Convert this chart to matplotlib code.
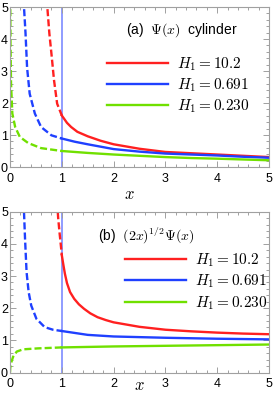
import matplotlib
matplotlib.use("Agg")
import matplotlib.pyplot as plt
from matplotlib.ticker import MultipleLocator

plt.rcParams['font.family'] = ['Liberation Sans', 'DejaVu Sans']
plt.rcParams['mathtext.fontset'] = 'cm'

labels = [r'$H_1 = 10.2$', r'$H_1 = 0.691$', r'$H_1 = 0.230$']
colors = ['#ff2020', '#1f40ff', '#70e000']

# ---- panel (a): Psi(x) ----
a_red_dash_x = [0.712, 0.72, 0.76, 0.80, 0.85, 0.91, 1.0]
a_red_dash_y = [5.3, 5.0, 4.17, 3.54, 2.71, 1.98, 1.61]
a_red_x = [1.0, 1.1, 1.18, 1.3, 1.5, 1.75, 2.0, 2.5, 3.0, 3.5, 4.0, 4.5, 5.0]
a_red_y = [1.61, 1.38, 1.25, 1.10, 0.96, 0.82, 0.71, 0.57, 0.47, 0.43, 0.39, 0.35, 0.31]

a_blue_dash_x = [0.265, 0.27, 0.30, 0.33, 0.38, 0.48, 0.6, 0.8, 1.0]
a_blue_dash_y = [5.3, 5.0, 4.17, 3.1, 2.29, 1.67, 1.25, 0.99, 0.89]
a_blue_x = [1.0, 1.25, 1.5, 2.0, 2.5, 3.0, 3.5, 4.0, 4.5, 5.0]
a_blue_y = [0.89, 0.79, 0.71, 0.56, 0.48, 0.42, 0.39, 0.36, 0.32, 0.29]

a_green_dash_x = [0.004, 0.01, 0.02, 0.045, 0.1, 0.19, 0.35, 0.6, 1.0]
a_green_dash_y = [5.3, 3.8, 2.6, 1.67, 1.25, 0.94, 0.75, 0.59, 0.50]
a_green_x = [1.0, 1.5, 2.0, 2.5, 3.0, 3.5, 4.0, 4.5, 5.0]
a_green_y = [0.50, 0.44, 0.39, 0.35, 0.31, 0.28, 0.26, 0.235, 0.21]

# ---- panel (b): (2x)^{1/2} Psi(x) ----
b_red_dash_x = [0.91, 0.93, 0.955, 0.98, 1.0]
b_red_dash_y = [5.3, 4.8, 4.37, 3.98, 3.65]
b_red_x = [1.0, 1.03, 1.06, 1.1, 1.16, 1.24, 1.33, 1.43, 1.55, 1.69, 1.85, 2.0, 2.5, 3.0, 3.5, 4.0, 4.5, 5.0]
b_red_y = [3.65, 3.35, 3.07, 2.78, 2.5, 2.29, 2.12, 1.98, 1.84, 1.72, 1.63, 1.56, 1.42, 1.33, 1.28, 1.24, 1.21, 1.19]

b_blue_dash_x = [0.265, 0.27, 0.29, 0.32, 0.36, 0.41, 0.51, 0.67, 0.83, 1.0]
b_blue_dash_y = [5.3, 5.0, 4.17, 3.12, 2.5, 2.08, 1.67, 1.41, 1.33, 1.29]
b_blue_x = [1.0, 1.5, 2.0, 2.5, 3.0, 4.0, 5.0]
b_blue_y = [1.29, 1.17, 1.12, 1.10, 1.08, 1.05, 1.03]

b_green_dash_x = [0.0, 0.005, 0.03, 0.06, 0.13, 0.25, 0.54, 1.0]
b_green_dash_y = [0.0, 0.15, 0.34, 0.49, 0.65, 0.72, 0.75, 0.78]
b_green_x = [1.0, 2.0, 3.0, 4.0, 5.0]
b_green_y = [0.78, 0.81, 0.83, 0.85, 0.87]

x_ticks = [0, 1, 2, 3, 4, 5]
y_ticks = [0, 1, 2, 3, 4, 5]

fig = plt.figure(figsize=(2.75, 3.97), dpi=100)
ax_a = fig.add_axes([10 / 275, 1 - 167 / 397, 259 / 275, 160 / 397])
ax_b = fig.add_axes([10 / 275, 1 - 372.5 / 397, 259 / 275, 160.8 / 397])

panels = [
    (ax_a,
     [(a_red_dash_x, a_red_dash_y, a_red_x, a_red_y),
      (a_blue_dash_x, a_blue_dash_y, a_blue_x, a_blue_y),
      (a_green_dash_x, a_green_dash_y, a_green_x, a_green_y)],
     r'(a)  $\Psi(x)$  cylinder', (0.447, 0.856), (0.375, 0.70), -0.125, 0.46),
    (ax_b,
     [(b_red_dash_x, b_red_dash_y, b_red_x, b_red_y),
      (b_blue_dash_x, b_blue_dash_y, b_blue_x, b_blue_y),
      (b_green_dash_x, b_green_dash_y, b_green_x, b_green_y)],
     r'(b)  $(2x)^{1/2}\Psi(x)$', (0.339, 0.855), (0.444, 0.755), -0.035, 0.5),
]

for ax, series, title, tpos, lpos, xl_y, xl_x in panels:
    ax.axvline(1.0, color='#8f9cff', lw=1.4, zorder=1)
    for (dx, dy, sx, sy), c, lab in zip(series, colors, labels):
        ax.plot(dx, dy, color=c, lw=1.7, dashes=(3, 1.3), zorder=2)
        ax.plot(sx, sy, color=c, lw=1.7, label=lab, zorder=2)
    ax.set_xlim(0, 5)
    ax.set_ylim(0, 5)
    ax.set_xticks(x_ticks)
    ax.set_yticks(y_ticks)
    ax.xaxis.set_minor_locator(MultipleLocator(0.2))
    ax.yaxis.set_minor_locator(MultipleLocator(0.2))
    ax.tick_params(which='both', direction='in', top=True, right=True,
                   color='#a0a0a0', width=0.7)
    ax.tick_params(which='major', length=4)
    ax.tick_params(which='minor', length=2)
    ax.tick_params(axis='x', which='major', pad=4, labelsize=9)
    ax.tick_params(axis='y', which='major', pad=1.5, labelsize=9)
    for s in ax.spines.values():
        s.set_color('#a0a0a0')
        s.set_linewidth(0.8)
    ax.set_xlabel(r'$x$', fontsize=12)
    ax.xaxis.set_label_coords(xl_x, xl_y)
    ax.text(tpos[0], tpos[1], title, transform=ax.transAxes,
            fontsize=10, va='center', ha='left')
    ax.legend(loc='upper left', bbox_to_anchor=lpos, frameon=False,
              fontsize=11, handlelength=4.0, handletextpad=0.55,
              borderpad=0, borderaxespad=0, labelspacing=0.25)

fig.savefig('out.png', dpi=100)
